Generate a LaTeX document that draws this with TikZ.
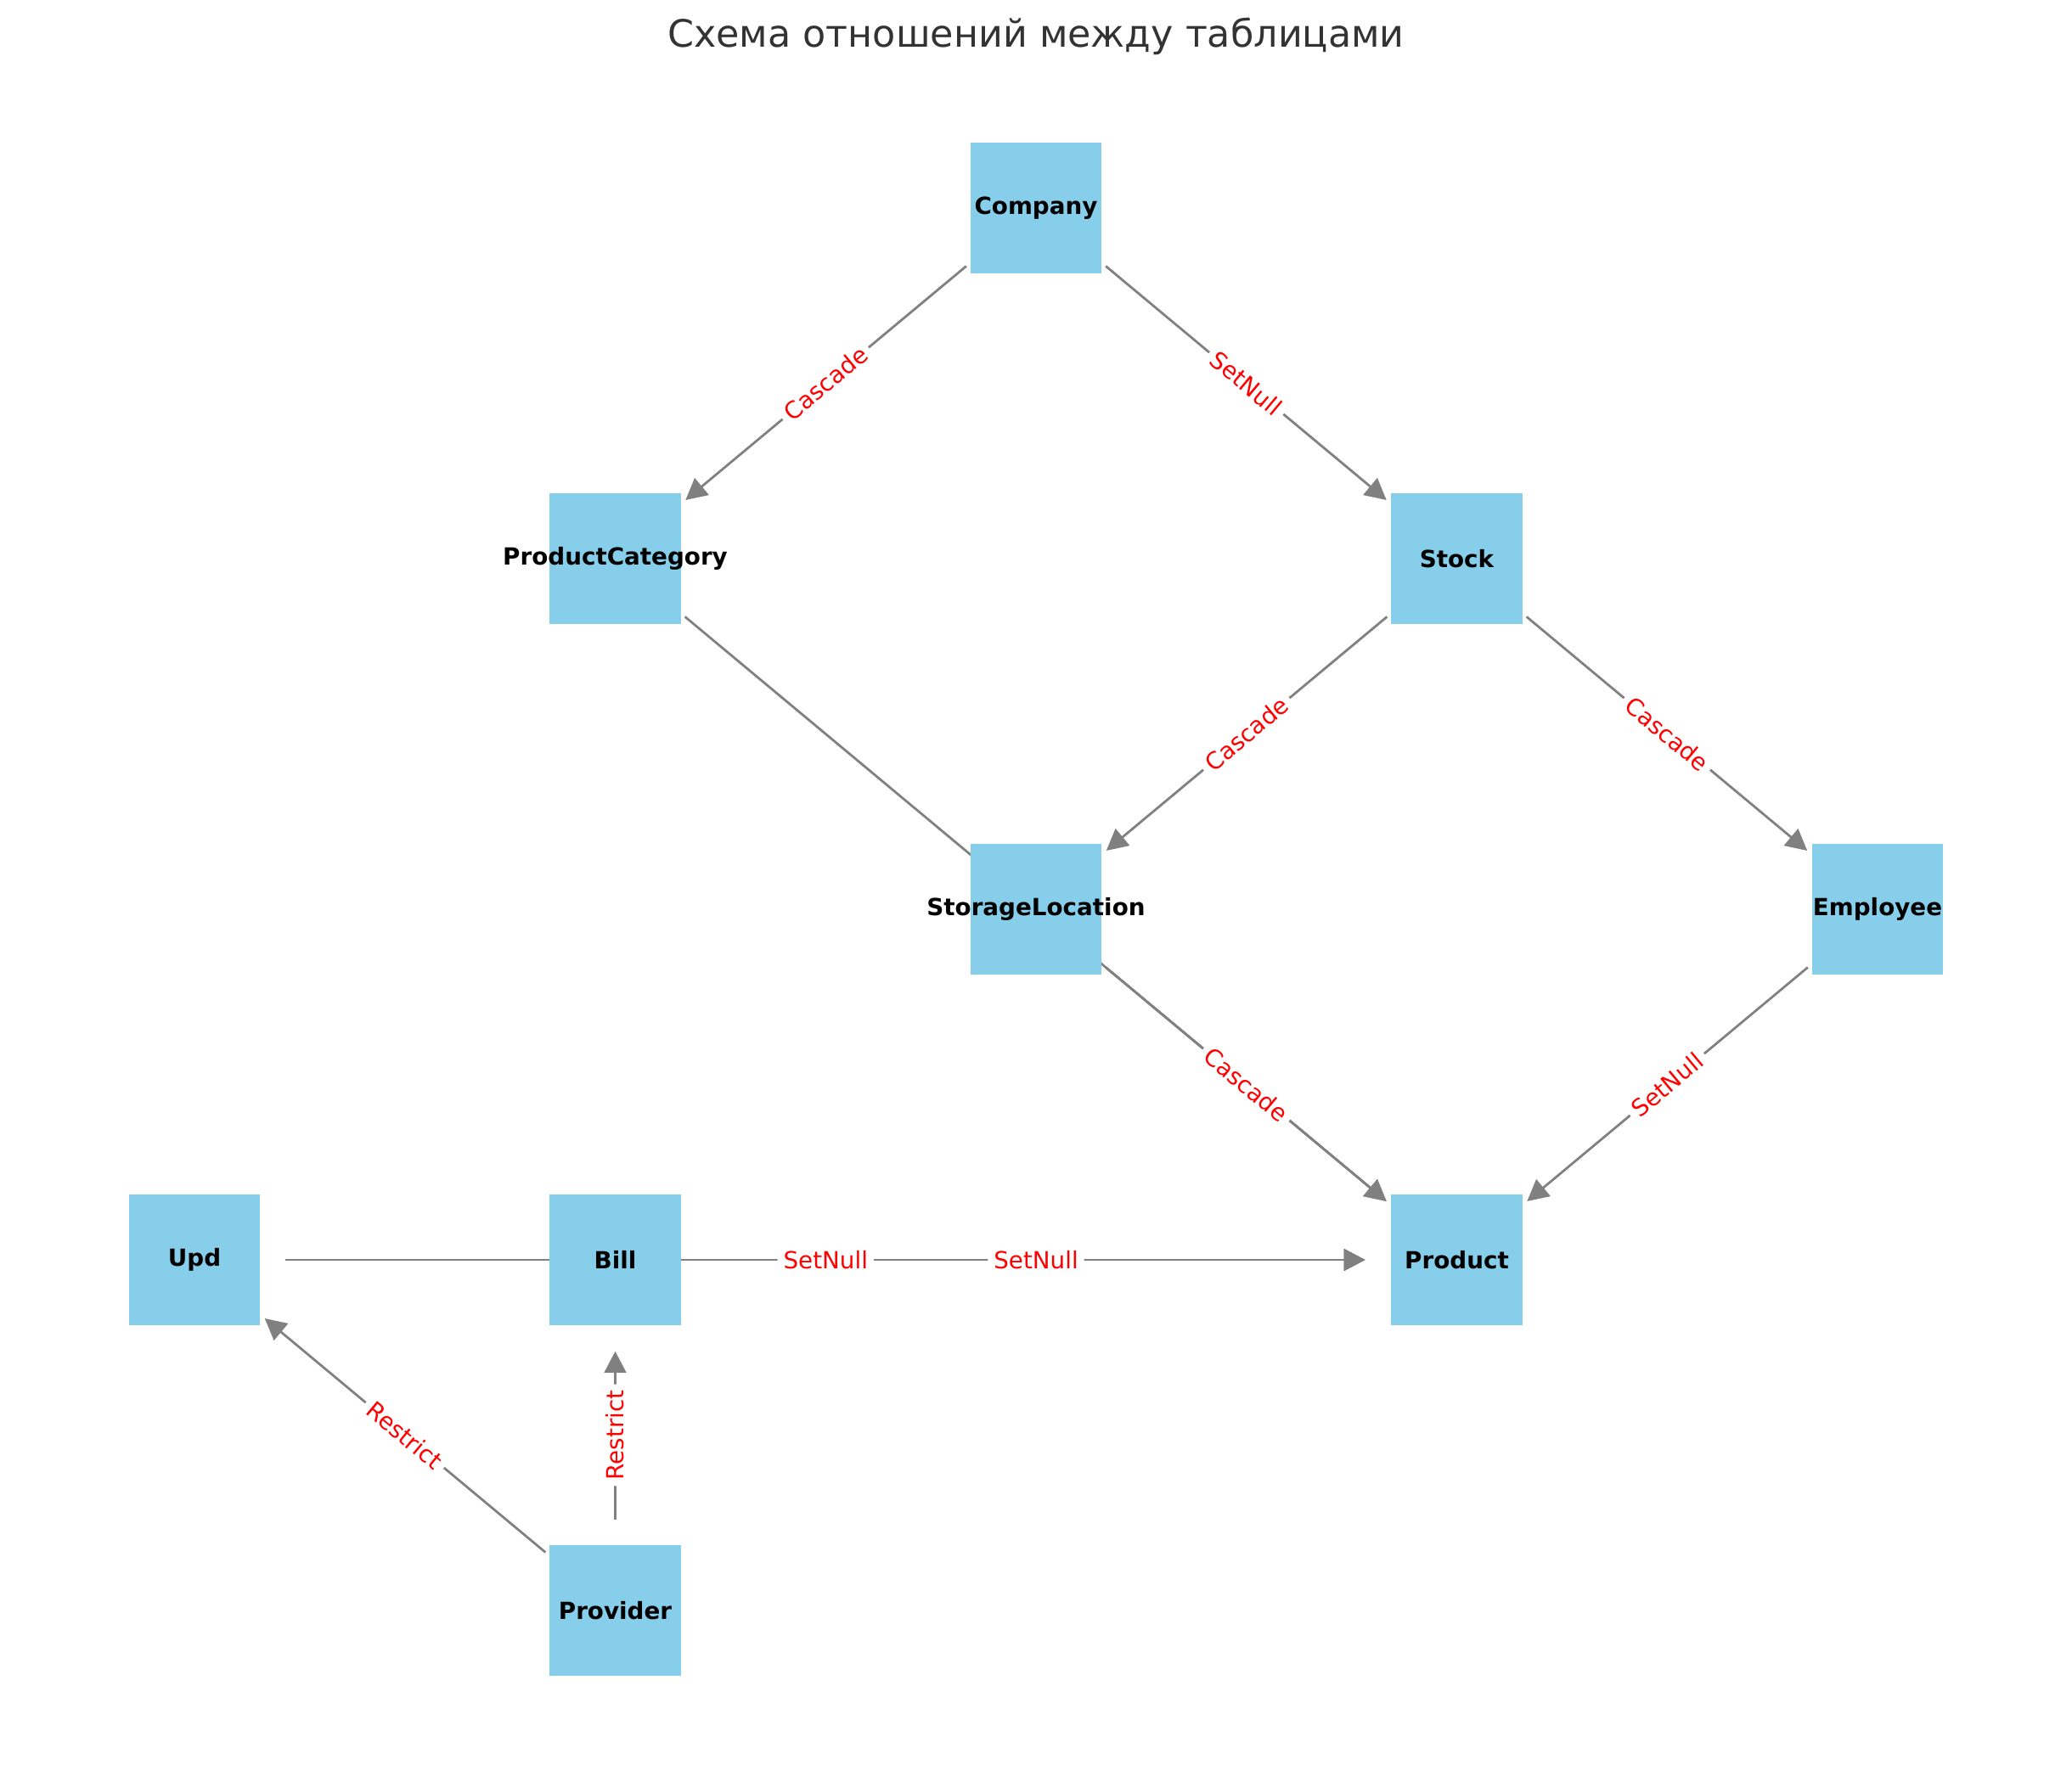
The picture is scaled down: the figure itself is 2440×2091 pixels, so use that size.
\documentclass[tikz,border=0pt]{standalone}
\usepackage{fontspec}
\setmainfont{DejaVu Sans}
\usetikzlibrary{arrows.meta,backgrounds}
\definecolor{nodeblue}{HTML}{87CEEB}
\definecolor{titlegray}{HTML}{333333}
\begin{document}
\begin{tikzpicture}[x=0.36pt,y=-0.36pt,
  table/.style={rectangle, fill=nodeblue, minimum size=55.5pt, inner sep=0pt},
  tname/.style={font=\bfseries\fontsize{10}{12}\selectfont, text=black},
  rel/.style={draw=gray, line width=1pt, shorten <=38.5pt, shorten >=38.8pt},
  fk/.style={rel, -{Triangle[length=9pt,width=9.2pt]}},
  lbl/.style={fill=white, text=red, font=\fontsize{10}{12}\selectfont,
    inner sep=2.5pt, rounded corners=2pt, sloped, midway}
]
\useasboundingbox (0,0) rectangle (2440,2091);

\node[anchor=base, font=\fontsize{16}{19}\selectfont, text=titlegray] (title) at (1220,55)
  {Схема отношений между таблицами};

% tables
\node[table, label={[tname]center:Company}]         (company)  at (1220,245)  {};
\node[table, label={[tname]center:ProductCategory}] (category) at (724.5,658) {};
\node[table, label={[tname]center:Stock}]           (stock)    at (1715.5,658) {};
\node[table, label={[tname]center:StorageLocation}] (storage)  at (1220,1071) {};
\node[table, label={[tname]center:Employee}]        (employee) at (2211,1071) {};
\node[table, label={[tname]center:Upd}]             (upd)      at (229,1484)  {};
\node[table, label={[tname]center:Bill}]            (bill)     at (724.5,1484) {};
\node[table, label={[tname]center:Product}]         (product)  at (1715.5,1484) {};
\node[table, label={[tname]center:Provider}]        (provider) at (724.5,1897) {};

% relations, drawn behind the tables
\begin{scope}[on background layer]
  \draw[fk] (company.center)  -- (category.center);
  \draw[fk] (company.center)  -- (stock.center);
  \draw[fk] (category.center) -- (product.center);
  \draw[fk] (stock.center)    -- (storage.center);
  \draw[fk] (stock.center)    -- (employee.center);
  \draw[fk] (storage.center)  -- (product.center);
  \draw[fk] (employee.center) -- (product.center);
  \draw[fk] (upd.center)      -- (product.center);
  \draw[fk] (bill.center)     -- (product.center);
  \draw[fk] (provider.center) -- (upd.center);
  \draw[fk] (provider.center) -- (bill.center);
\end{scope}

% delete rules
\path (company.center)  -- (category.center) node[lbl] (l1) {Cascade};
\path (company.center)  -- (stock.center)    node[lbl] (l2) {SetNull};
\path (stock.center)    -- (storage.center)  node[lbl] (l3) {Cascade};
\path (stock.center)    -- (employee.center) node[lbl] (l4) {Cascade};
\path (storage.center)  -- (product.center)  node[lbl] (l5) {Cascade};
\path (employee.center) -- (product.center)  node[lbl] (l6) {SetNull};
\path (upd.center)      -- (product.center)  node[lbl] (l7) {SetNull};
\path (bill.center)     -- (product.center)  node[lbl] (l8) {SetNull};
\path (provider.center) -- (upd.center)      node[lbl] (l9) {Restrict};
\path (provider.center) -- (bill.center)     node[lbl] (l10) {Restrict};
\end{tikzpicture}
\end{document}
